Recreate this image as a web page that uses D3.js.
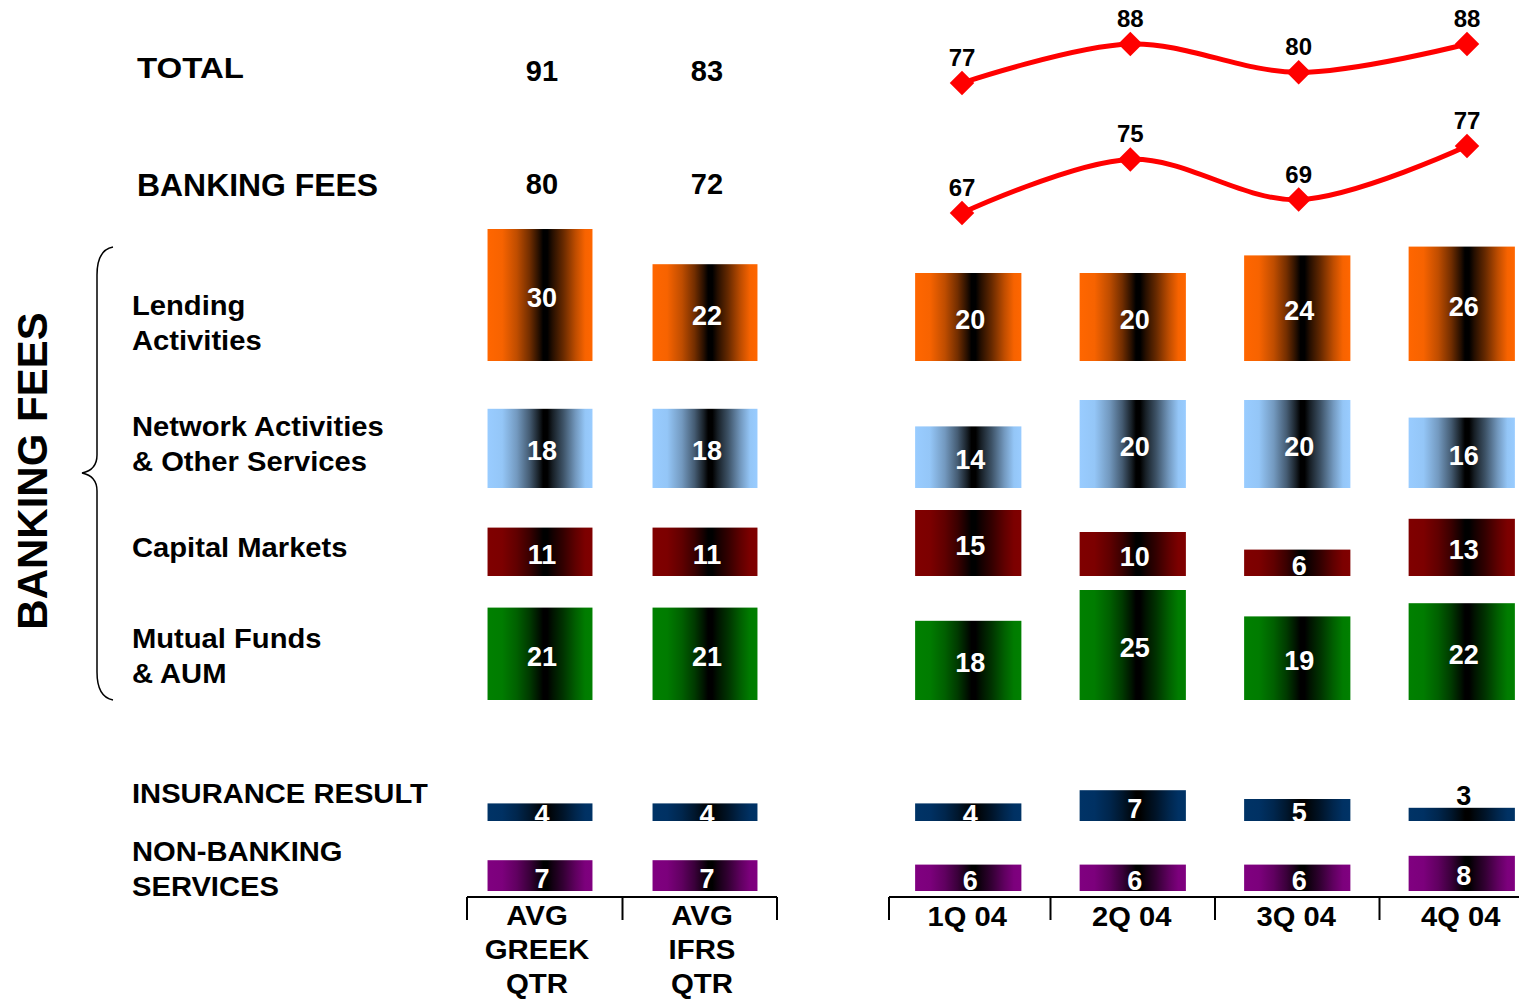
<!DOCTYPE html>
<html>
<head>
<meta charset="utf-8">
<script src="https://cdn.jsdelivr.net/npm/d3@7"></script>
<style>
  body { margin: 0; background: #fff; }
  svg { display: block; font-family: "Liberation Sans", Arial, sans-serif; font-weight: bold; }
</style>
</head>
<body>
<svg id="chart" width="1519" height="1000"></svg>
<script>
// data
const avgCols = ["AVG GREEK QTR", "AVG IFRS QTR"];
const quarters = ["1Q 04", "2Q 04", "3Q 04", "4Q 04"];
const columns = avgCols.concat(quarters);

const totalAvg = [91, 83];
const totalQtr = [77, 88, 80, 88];
const bankingAvg = [80, 72];
const bankingQtr = [67, 75, 69, 77];

const lending = [30, 22, 20, 20, 24, 26];
const network = [18, 18, 14, 20, 20, 16];
const capital = [11, 11, 15, 10, 6, 13];
const mutual = [21, 21, 18, 25, 19, 22];
const insurance = [4, 4, 4, 7, 5, 3];
const nonBanking = [7, 7, 6, 6, 6, 8];

const rowLabels = [
  ["Lending", "Activities"],
  ["Network Activities", "& Other Services"],
  ["Capital Markets"],
  ["Mutual Funds", "& AUM"],
  ["INSURANCE RESULT"],
  ["NON-BANKING", "SERVICES"]
];

const width = 1519, height = 1000;
const svg = d3.select("#chart");

// word labels in the original are a bit wider than Liberation Sans
function wideText(x, y, size, str, sx, anchor) {
  return svg.append("text")
    .attr("transform", `translate(${x},${y}) scale(${sx},1)`)
    .attr("text-anchor", anchor || "start")
    .attr("font-size", size)
    .text(str);
}

// layout of bar rows (baseline y, colour)
const rows = [
  { values: lending, base: 361, color: "#FF6600", label: rowLabels[0], ly: 315 },
  { values: network, base: 488, color: "#99CCFF", label: rowLabels[1], ly: 436 },
  { values: capital, base: 576, color: "#800000", label: rowLabels[2], ly: 557 },
  { values: mutual, base: 700, color: "#008000", label: rowLabels[3], ly: 648 },
  { values: insurance, base: 821, color: "#003366", label: rowLabels[4], ly: 803 },
  { values: nonBanking, base: 891, color: "#800080", label: rowLabels[5], ly: 861 }
];

// x scales
const xAvg = d3.scaleBand().domain(avgCols).range([457.5, 787.5])
  .paddingInner(0.364).paddingOuter(0.182);
const xQtr = d3.scaleBand().domain(quarters).range([886, 1544])
  .paddingInner(0.354).paddingOuter(0.177);
const xScale = c => avgCols.includes(c) ? xAvg(c) : xQtr(c);
const bw = c => avgCols.includes(c) ? xAvg.bandwidth() : xQtr.bandwidth();

// bar height scale
const h = d3.scaleLinear().domain([0, 30]).range([0, 132]);

// gradients: colour at the edges, black core a little right of centre
const defs = svg.append("defs");
rows.forEach((r, i) => {
  const g = defs.append("linearGradient").attr("id", "grad" + i)
    .attr("x1", "0%").attr("x2", "100%").attr("y1", "0%").attr("y2", "0%");
  const mix = t => d3.interpolateRgb(r.color, "#000")(t);
  [[0, 0], [0.14, 0.03], [0.28, 0.25], [0.4, 0.55], [0.49, 0.85], [0.53, 1], [0.57, 1],
   [0.62, 0.85], [0.72, 0.6], [0.84, 0.25], [0.93, 0.03], [1, 0]]
    .forEach(([o, t]) => g.append("stop").attr("offset", o).attr("stop-color", mix(t)));
});

// left labels
wideText(137, 78, 30, "TOTAL", 1.1);
wideText(137, 196, 31, "BANKING FEES", 1.03);

rows.forEach(r => {
  r.label.forEach((t, j) => wideText(132, r.ly + j * 35, 27, t, 1.08));
});

// vertical title + brace
svg.append("text")
  .attr("transform", "translate(47, 471) rotate(-90)")
  .attr("text-anchor", "middle").attr("font-size", 42)
  .text("BANKING FEES");

svg.append("path")
  .attr("d", "M113,247 Q97,250 97,275 L97,455 Q97,470 82,473 Q97,476 97,491 L97,672 Q97,697 113,700")
  .attr("fill", "none").attr("stroke", "#000").attr("stroke-width", 1.5);

// total / banking avg values
avgCols.forEach((c, i) => {
  const cx = xAvg(c) + xAvg.bandwidth() / 2 + 2;
  svg.append("text").attr("x", cx).attr("y", 81).attr("text-anchor", "middle")
    .attr("font-size", 29).text(totalAvg[i]);
  svg.append("text").attr("x", cx).attr("y", 194).attr("text-anchor", "middle")
    .attr("font-size", 29).text(bankingAvg[i]);
});

// bars
rows.forEach((r, i) => {
  const g = svg.append("g");
  const d = columns.map((c, k) => ({ c, v: r.values[k] }));
  g.selectAll("rect").data(d).join("rect")
    .attr("x", d => xScale(d.c))
    .attr("y", d => r.base - h(d.v))
    .attr("width", d => bw(d.c))
    .attr("height", d => h(d.v))
    .attr("fill", `url(#grad${i})`);
  g.selectAll("text").data(d).join("text")
    .attr("x", d => xScale(d.c) + bw(d.c) / 2 + 2)
    .attr("y", d => h(d.v) < 16 ? r.base - h(d.v) - 3 : r.base - h(d.v) / 2 + 12)
    .attr("text-anchor", "middle")
    .attr("font-size", 27)
    .attr("fill", d => h(d.v) < 16 ? "#000" : "#fff")
    .text(d => d.v);
});

// lines
const xLine = d3.scalePoint().domain(quarters).range([962, 1467]);
const lineSets = [
  { values: totalQtr, y: d3.scaleLinear().domain([77, 88]).range([83, 44]) },
  { values: bankingQtr, y: d3.scaleLinear().domain([67, 77]).range([213, 146]) }
];
lineSets.forEach(ls => {
  const pts = quarters.map((q, k) => [xLine(q), ls.y(ls.values[k])]);
  svg.append("path")
    .attr("d", d3.line().curve(d3.curveCatmullRom.alpha(0.5))(pts))
    .attr("fill", "none").attr("stroke", "#FF0000").attr("stroke-width", 5);
  svg.append("g").selectAll("path").data(pts).join("path")
    .attr("d", d3.symbol().type(d3.symbolSquare).size(300))
    .attr("transform", d => `translate(${d[0]},${d[1]}) rotate(45)`)
    .attr("fill", "#FF0000");
  svg.append("g").selectAll("text").data(pts).join("text")
    .attr("x", d => d[0]).attr("y", d => d[1] - 17)
    .attr("text-anchor", "middle").attr("font-size", 24)
    .text((d, k) => ls.values[k]);
});

// category axes (bracket style)
function bracket(scale, x0, x1) {
  const step = scale.step();
  const pad = scale.paddingInner() * step / 2;
  const g = svg.append("g").attr("stroke", "#000").attr("stroke-width", 2);
  g.append("line").attr("x1", x0).attr("x2", x1).attr("y1", 897).attr("y2", 897);
  const ticks = [x0].concat(scale.domain().slice(1).map(c => scale(c) - pad));
  g.selectAll(".tk").data(ticks).join("line")
    .attr("x1", d => d).attr("x2", d => d).attr("y1", 897).attr("y2", 920);
  return g;
}
bracket(xAvg, 467, 777).append("line")
  .attr("x1", 777).attr("x2", 777).attr("y1", 897).attr("y2", 920);
bracket(xQtr, 889, 1519);

avgCols.forEach(c => {
  const cx = xAvg(c) + xAvg.bandwidth() / 2 - 3;
  c.split(" ").forEach((w, j) => wideText(cx, 925 + j * 34, 28, w, 1.05, "middle"));
});
quarters.forEach(q => {
  wideText(xQtr(q) + xQtr.bandwidth() / 2 - 1, 926, 28, q, 1.04, "middle");
});
</script>
</body>
</html>
